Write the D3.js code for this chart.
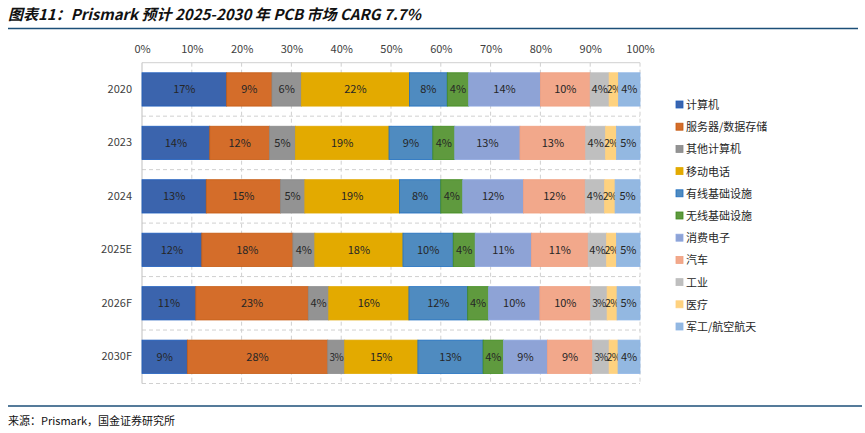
<!DOCTYPE html>
<html><head><meta charset="utf-8">
<script src="https://cdn.jsdelivr.net/npm/d3@7/dist/d3.min.js"></script>
<style>
body{margin:0;background:#fff;}
svg{display:block;font-family:"Noto Sans CJK SC","Microsoft YaHei",sans-serif;}
</style></head><body>
<svg id="c" width="865" height="433"></svg>
<script>
const categories = ["2020","2023","2024","2025E","2026F","2030F"];
const seriesNames = ["计算机","服务器/数据存储","其他计算机","移动电话","有线基础设施","无线基础设施","消费电子","汽车","工业","医疗","军工/航空航天"];
const s计算机 = [17.0,13.6,12.9,12.0,10.8,9.1];
const s服务器 = [9.1,12.0,14.9,18.3,22.6,28.2];
const s其他计算机 = [5.9,5.2,4.9,4.4,4.1,3.4];
const s移动电话 = [21.7,18.8,19.0,17.7,16.1,14.7];
const s有线 = [7.6,8.8,8.3,10.1,11.8,13.1];
const s无线 = [4.3,4.4,4.4,4.4,4.2,4.1];
const s消费电子 = [14.4,13.1,12.2,11.3,10.3,8.8];
const s汽车 = [10.0,13.2,12.4,11.4,10.2,9.1];
const s工业 = [3.8,4.0,3.9,3.7,3.3,3.3];
const s医疗 = [1.9,2.2,2.1,2.0,2.0,1.8];
const s军工 = [4.3,4.7,5.0,4.7,4.6,4.4];
const xTicks = [0,10,20,30,40,50,60,70,80,90,100];
const title = "图表11：Prismark 预计 2025-2030 年 PCB 市场 CARG 7.7%";
const source = "来源：Prismark，国金证券研究所";

const allSeries = [s计算机,s服务器,s其他计算机,s移动电话,s有线,s无线,s消费电子,s汽车,s工业,s医疗,s军工];
const fills = ["#3b64ad","#d46d2a","#939393","#e3aa00","#4f8bc0","#5f9a3e","#8ea3d6","#f2a88b","#bfbfbf","#fed27f","#93b8e1"];
const strokes = ["#1f5fbf","#c55a11","#8a8a8a","#e0a800","#1f6fc0","#3f8a1e","#8fa8e0","#f0a080","#bfbfbf","#ffd080","#8fb6e6"];

const svg = d3.select("#c");
const L = 142, R = 640, T = 62.7, B = 383.5;

// title
svg.append("text").attr("x",8).attr("y",20).attr("font-size",15).attr("font-weight","bold")
  .attr("font-style","italic").attr("fill","#111").text(title);
svg.append("line").attr("x1",8).attr("x2",858).attr("y1",28.5).attr("y2",28.5)
  .attr("stroke","#1c4f78").attr("stroke-width",1.6);
svg.append("line").attr("x1",8).attr("x2",862).attr("y1",406).attr("y2",406)
  .attr("stroke","#1c4f78").attr("stroke-width",1.6);
svg.append("text").attr("x",8).attr("y",425).attr("font-size",11).attr("fill","#111").text(source);

const x = d3.scaleLinear().domain([0,100]).range([L,R]);
const y = d3.scaleBand().domain(categories).range([T,B]).paddingInner(0.377).paddingOuter(0.1885);

// vertical gridlines
svg.append("g").selectAll("line").data(xTicks.slice(1)).join("line")
  .attr("x1",d=>x(d)).attr("x2",d=>x(d)).attr("y1",T).attr("y2",B)
  .attr("stroke","#d0d0d0").attr("stroke-dasharray","4,3").attr("stroke-width",1);
// horizontal category gridlines
const bounds = categories.map((c,i)=>T + i*(B-T)/categories.length).slice(1).concat([B]);
svg.append("g").selectAll("line").data(bounds).join("line")
  .attr("x1",L).attr("x2",R).attr("y1",d=>d).attr("y2",d=>d)
  .attr("stroke","#d0d0d0").attr("stroke-dasharray","4,3").attr("stroke-width",1);
// top axis line & left axis line
svg.append("line").attr("x1",L).attr("x2",R).attr("y1",T).attr("y2",T).attr("stroke","#d0d0d0");
svg.append("line").attr("x1",L).attr("x2",L).attr("y1",T).attr("y2",B).attr("stroke","#bfbfbf");

// top axis
const xa = d3.axisTop(x).tickValues(xTicks).tickFormat(d=>d+"%").tickSize(0).tickPadding(10);
const gx = svg.append("g").attr("transform",`translate(0,${T})`).call(xa);
gx.select(".domain").remove();
gx.selectAll("text").attr("font-size",11).attr("fill","#404040").attr("font-family","'Noto Sans CJK SC',sans-serif");

// left axis
const ya = d3.axisLeft(y).tickSize(0).tickPadding(10);
const gy = svg.append("g").attr("transform",`translate(${L},0)`).call(ya);
gy.select(".domain").remove();
gy.selectAll("text").attr("font-size",11).attr("fill","#404040").attr("font-family","'Noto Sans CJK SC',sans-serif");

// stacked data
const rows = categories.map((c,i)=>{const o={cat:c}; seriesNames.forEach((n,j)=>o[n]=allSeries[j][i]); return o;});
const stack = d3.stack().keys(seriesNames)(rows);
stack.forEach((layer,j)=>{
  const g = svg.append("g");
  g.selectAll("rect").data(layer).join("rect")
    .attr("x",d=>x(d[0])).attr("width",d=>x(d[1])-x(d[0]))
    .attr("y",d=>y(d.data.cat)).attr("height",y.bandwidth())
    .attr("fill",fills[j]).attr("stroke",strokes[j]).attr("stroke-width",0.8);
  g.selectAll("text").data(layer).join("text")
    .attr("x",d=>(x(d[0])+x(d[1]))/2).attr("y",d=>y(d.data.cat)+y.bandwidth()/2+4)
    .attr("text-anchor","middle")
    .attr("font-size",d=>(x(d[1])-x(d[0]))<18 ? 10 : 11)
    .attr("letter-spacing",d=>(x(d[1])-x(d[0]))<18 ? -0.6 : 0)
    .attr("fill","#262626")
    .text(d=>Math.round(d[1]-d[0])+"%");
});

// legend
const lg = svg.append("g").selectAll("g").data(seriesNames).join("g")
  .attr("transform",(d,i)=>`translate(676,${105+i*22.2})`);
lg.append("rect").attr("x",0).attr("y",-4).attr("width",7).attr("height",7)
  .attr("fill",(d,i)=>fills[i]).attr("stroke",(d,i)=>strokes[i]).attr("stroke-width",0.8);
lg.append("text").attr("x",10).attr("y",4).attr("font-size",11).attr("fill","#262626").text(d=>d);
</script>
</body></html>
